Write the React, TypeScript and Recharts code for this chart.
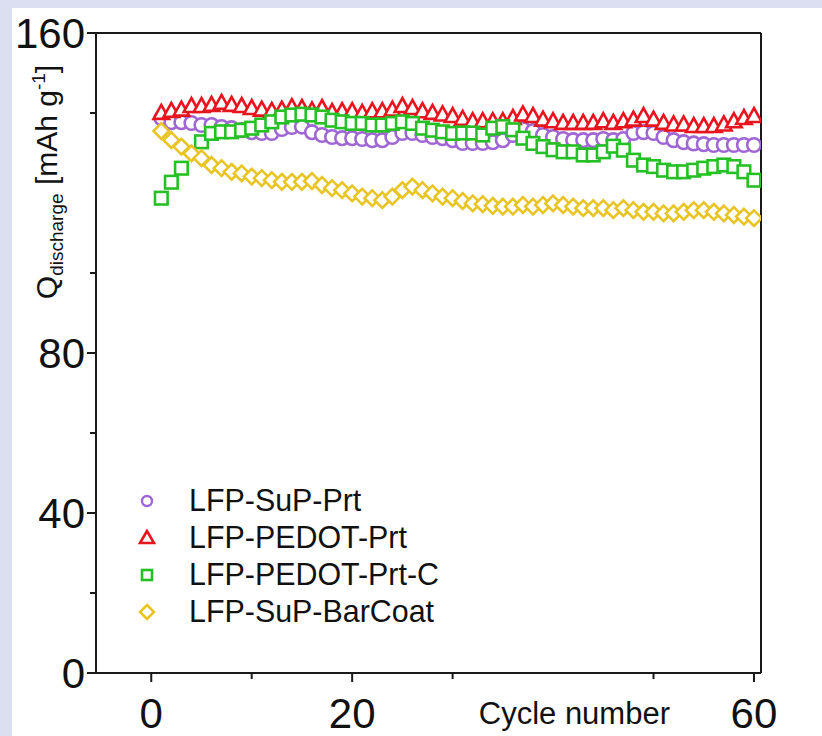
import React from "react";
import { ScatterChart, Scatter, XAxis, YAxis, ReferenceLine } from "recharts";

// cycle numbers
const cycles = [
  1, 2, 3, 4, 5, 6, 7, 8, 9, 10, 11, 12, 13, 14, 15, 16, 17, 18, 19, 20,
  21, 22, 23, 24, 25, 26, 27, 28, 29, 30, 31, 32, 33, 34, 35, 36, 37, 38, 39, 40,
  41, 42, 43, 44, 45, 46, 47, 48, 49, 50, 51, 52, 53, 54, 55, 56, 57, 58, 59, 60,
];

// discharge capacity, mAh/g
const supPrt = [
  138.7, 137.7, 137.7, 137.5, 137, 137, 136.5, 136.2, 135.7, 135.2,
  135, 135, 136, 136.5, 136.6, 135.2, 134.5, 134, 133.7, 133.7,
  133.5, 133.2, 133.2, 134, 135, 135, 134.5, 134, 133.7, 133.2,
  132.5, 132.5, 132.5, 132.7, 133.2, 134.5, 136, 135.5, 134.5, 134,
  133.5, 133.2, 133.2, 133.2, 133.5, 133.2, 133.5, 135, 135.2, 135,
  134, 133.2, 132.7, 132.4, 132.2, 132, 132, 132, 132, 132,
];
const pedotPrt = [
  140, 140.5, 140.8, 141.7, 141.7, 142, 142.5, 142, 141.7, 141.2,
  140.8, 140.5, 140.8, 141.4, 141.2, 140.6, 141.2, 140.2, 140.4, 140.4,
  140, 140.4, 140.4, 140.8, 141.7, 141.2, 140.4, 140, 139.6, 139.2,
  138.5, 137.9, 137.9, 137.9, 137.9, 138.7, 139.6, 139.2, 138.3, 137.9,
  137.5, 137.5, 137.5, 137.5, 137.9, 137.5, 137.9, 138.3, 139.2, 138.3,
  137.5, 137.1, 137.1, 136.7, 136.7, 136.7, 137.1, 137.9, 138.7, 139.2,
];
const pedotPrtC = [
  118.7, 122.7, 126.2, null, 132.8, 134.9, 135.3, 135.3, 135.7, 136.2,
  137, 137.8, 139, 139.5, 139.7, 139.5, 139, 138.2, 137.8, 137.4,
  137.4, 137, 137, 137.4, 137.8, 137.4, 136.2, 135.7, 135.3, 134.9,
  135, 135, 134.5, 136.2, 136.6, 135.8, 133.7, 132.4, 131.6, 130.8,
  130.3, 130.3, 129.5, 129.5, 130.3, 131.7, 130.7, 128.2, 127, 126.6,
  125.7, 125.3, 125.3, 125.7, 126.2, 126.6, 127, 126.6, 125.3, 123.2,
];
const supBarCoat = [
  135.5, 133.2, 131.6, 129.9, 128.7, 127, 126.2, 125.3, 124.9, 124.1,
  123.7, 123.2, 122.8, 122.8, 122.8, 123, 122, 121.2, 120.7, 119.9,
  119.1, 118.7, 118.2, 119.1, 120.7, 121.6, 120.7, 119.9, 119.1, 118.7,
  118, 117.4, 117.2, 116.8, 116.6, 116.6, 117, 116.6, 117, 117.4,
  117, 116.6, 116.2, 116.2, 116.2, 115.7, 116.2, 115.7, 115.3, 115.3,
  114.9, 114.9, 115.3, 115.7, 115.7, 115.3, 114.9, 114.5, 114.1, 113.7,
];

const seriesNames = ["LFP-SuP-Prt", "LFP-PEDOT-Prt", "LFP-PEDOT-Prt-C", "LFP-SuP-BarCoat"];

const xTicks = [0, 10, 20, 30, 50, 60];
const xLabeled = [0, 20, 60];
const yTicks = [0, 20, 40, 60, 80, 100, 140, 160];
const yLabeled = [0, 40, 80, 160];

const PURPLE = "#a066d4";
const RED = "#e8141e";
const GREEN = "#26c026";
const YELLOW = "#e8c424";
const AXIS = "#1a1a1a";
const FONT = "'Liberation Sans', Arial, sans-serif";
const SW = 2.6;

const toPoints = (vals: (number | null)[]) =>
  cycles.map((c, i) => ({ x: c, y: vals[i] })).filter((p) => p.y !== null);

const circle = (color: string, r = 6.8) => (p: any) => (
  <circle cx={p.cx} cy={p.cy} r={r} fill="#fff" stroke={color} strokeWidth={SW} />
);
const triangle = (color: string, s = 7.8) => (p: any) => (
  <polygon
    points={`${p.cx},${p.cy - s * 1.05} ${p.cx - s},${p.cy + s * 0.75} ${p.cx + s},${p.cy + s * 0.75}`}
    fill="#fff" stroke={color} strokeWidth={SW}
  />
);
const square = (color: string, s = 6.3) => (p: any) => (
  <rect x={p.cx - s} y={p.cy - s} width={s * 2} height={s * 2} fill="#fff" stroke={color} strokeWidth={SW} />
);
const diamond = (color: string, s = 7.8) => (p: any) => (
  <polygon
    points={`${p.cx},${p.cy - s} ${p.cx + s},${p.cy} ${p.cx},${p.cy + s} ${p.cx - s},${p.cy}`}
    fill="#fff" stroke={color} strokeWidth={SW}
  />
);

const XTick = ({ x, y, payload }: any) => {
  const major = xLabeled.includes(payload.value);
  return (
    <g>
      <line x1={x} x2={x} y1={y} y2={y + (major ? 9 : 6)} stroke={AXIS} strokeWidth={2} />
      {major && (
        <text x={x} y={y + 55} textAnchor="middle" fontSize={42} fontFamily={FONT} fill="#111">
          {payload.value}
        </text>
      )}
    </g>
  );
};

const YTick = ({ x, y, payload }: any) => {
  const major = yLabeled.includes(payload.value);
  return (
    <g>
      <line x1={x - (major ? 9 : 6)} x2={x} y1={y} y2={y} stroke={AXIS} strokeWidth={2} />
      {major && (
        <text x={x - 11} y={y + 15} textAnchor="end" fontSize={42} fontFamily={FONT} fill="#111">
          {payload.value}
        </text>
      )}
    </g>
  );
};

const YTitle = () => (
  <text transform="translate(57,182) rotate(-90)" textAnchor="middle" fontSize={30} fontFamily={FONT} fill="#111">
    Q<tspan fontSize={19} dy={6}>discharge</tspan>
    <tspan dy={-6}> [mAh g</tspan>
    <tspan fontSize={19} dy={-12}>-1</tspan>
    <tspan dy={12}>]</tspan>
  </text>
);

const XTitle = ({ viewBox }: any) => (
  <text x={viewBox.x + viewBox.width - 91} y={viewBox.y + 51} textAnchor="end" fontSize={31} fontFamily={FONT} fill="#111">
    Cycle number
  </text>
);

const legendMarks = [
  <circle cx={10} cy={10} r={5} fill="#fff" stroke={PURPLE} strokeWidth={2.4} />,
  <polygon points="10,3 3,15 17,15" fill="#fff" stroke={RED} strokeWidth={2.6} />,
  <rect x={5} y={5} width={10} height={10} fill="#fff" stroke={GREEN} strokeWidth={2.6} />,
  <polygon points="10,3 17,10 10,17 3,10" fill="#fff" stroke={YELLOW} strokeWidth={2.6} />,
];

export default function App() {
  return (
    <div style={{ position: "relative", width: 822, height: 736, background: "#dcdff2", overflow: "hidden" }}>
      <style>{`body{margin:0}`}</style>
      <div style={{ position: "absolute", left: 12, top: 8, right: 0, bottom: 0, background: "#fff" }} />
      <div style={{ position: "absolute", left: 0, top: 0 }}>
        <ScatterChart width={822} height={736} margin={{ top: 33, right: 61, bottom: 0, left: 0 }}>
          <XAxis
            type="number"
            dataKey="x"
            domain={[-5.5, 60.7]}
            ticks={xTicks}
            allowDataOverflow
            height={63}
            axisLine={{ stroke: AXIS, strokeWidth: 2 }}
            tickLine={false}
            tickSize={0}
            tickMargin={0}
            tick={<XTick />}
            label={{ content: <XTitle /> }}
          />
          <YAxis
            type="number"
            dataKey="y"
            domain={[0, 160]}
            ticks={yTicks}
            allowDataOverflow
            width={96}
            axisLine={{ stroke: AXIS, strokeWidth: 2 }}
            tickLine={false}
            tickSize={0}
            tickMargin={0}
            tick={<YTick />}
            label={{ content: <YTitle /> }}
          />
          <ReferenceLine y={160} stroke={AXIS} strokeWidth={2} />
          <ReferenceLine x={60.7} stroke={AXIS} strokeWidth={2} />
          <Scatter name={seriesNames[0]} data={toPoints(supPrt)} shape={circle(PURPLE)} isAnimationActive={false} />
          <Scatter name={seriesNames[1]} data={toPoints(pedotPrt)} shape={triangle(RED)} isAnimationActive={false} />
          <Scatter name={seriesNames[2]} data={toPoints(pedotPrtC)} shape={square(GREEN)} isAnimationActive={false} />
          <Scatter name={seriesNames[3]} data={toPoints(supBarCoat)} shape={diamond(YELLOW)} isAnimationActive={false} />
        </ScatterChart>
      </div>
      <div style={{ position: "absolute", left: 137, top: 482, fontFamily: FONT, fontSize: 32, color: "#111" }}>
        {seriesNames.map((n, i) => (
          <div key={n} style={{ display: "flex", alignItems: "center", height: 37 }}>
            <svg width={20} height={20} style={{ marginRight: 32 }}>{legendMarks[i]}</svg>
            <span style={{ lineHeight: "37px", display: "inline-block", transform: "scaleX(0.95)", transformOrigin: "left center" }}>{n}</span>
          </div>
        ))}
      </div>
    </div>
  );
}
